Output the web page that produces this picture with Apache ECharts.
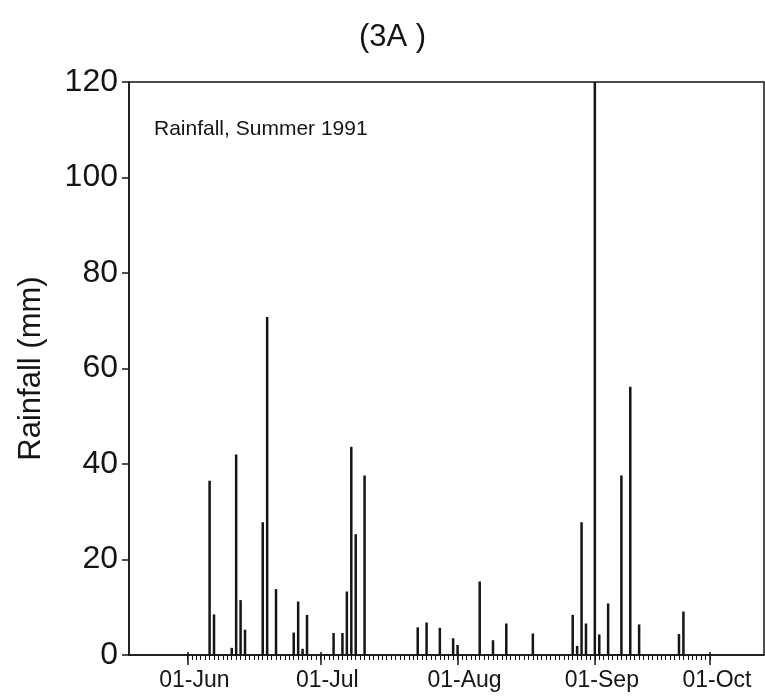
<!DOCTYPE html>
<html>
<head>
<meta charset="utf-8">
<script src="https://cdn.jsdelivr.net/npm/echarts@6/dist/echarts.min.js"></script>
<style>
  html, body { margin: 0; padding: 0; background: #fff; }
  #rainChart { width: 765px; height: 696px; }
</style>
</head>
<body>
<div id="rainChart"></div>
<script>
  // days counted from 01-Jun on the plotted day scale
  var rainDays = [5, 6, 10, 11, 12, 13, 17, 18, 20, 24, 25, 26, 27,
    33, 35, 36, 37, 38, 40, 52, 54, 57, 60, 61,
    66, 69, 72, 78, 87, 88, 89, 90,
    92, 93, 95, 98, 100, 102, 111, 112];
  // rainfall (mm)
  var rainVals = [36.5, 8.5, 1.5, 42, 11.5, 5.3, 27.8, 70.8, 13.8, 4.7, 11.2, 1.3, 8.4,
    4.6, 4.6, 13.3, 43.6, 25.3, 37.6, 5.8, 6.8, 5.7, 3.5, 2.1,
    15.4, 3.1, 6.6, 4.5, 8.4, 1.9, 27.8, 6.6,
    120, 4.3, 10.8, 37.6, 56.2, 6.4, 4.4, 9.1];

  var monthDays = [0, 30, 61, 92, 118];
  var monthLabels = ['01-Jun', '01-Jul', '01-Aug', '01-Sep', '01-Oct'];

  var dayTicks = [];
  for (var d = 0; d <= 118; d++) dayTicks.push(d);

  var xMin = -13.2, xMax = 130.2;
  var ink = '#151515';
  var font = 'Liberation Sans, Arial, sans-serif';

  var chart = echarts.init(document.getElementById('rainChart'));
  chart.setOption({
    animation: false,
    title: [
      {
        text: '(3A )',
        left: 354,
        top: 17,
        textStyle: { fontSize: 31, fontWeight: 'normal', color: ink, fontFamily: font }
      },
      {
        text: 'Rainfall, Summer 1991',
        left: 149,
        top: 114,
        textStyle: { fontSize: 21, fontWeight: 'normal', color: ink, fontFamily: font }
      }
    ],
    grid: {
      left: 129,
      right: 1,
      top: 82,
      bottom: 41,
      show: true,
      borderColor: ink,
      borderWidth: 1.5
    },
    xAxis: [
      {
        type: 'value',
        position: 'bottom',
        min: xMin,
        max: xMax,
        axisLine: { show: true, onZero: false, lineStyle: { color: ink, width: 1.5 } },
        axisTick: { show: true, customValues: monthDays, length: 10, lineStyle: { color: ink, width: 1.5 } },
        axisLabel: {
          customValues: monthDays,
          margin: 14,
          fontSize: 23,
          color: ink,
          fontFamily: font,
          padding: [0, 0, 0, 14],
          formatter: function (v) {
            return monthLabels[monthDays.indexOf(v)];
          }
        },
        splitLine: { show: false }
      },
      {
        type: 'value',
        position: 'bottom',
        min: xMin,
        max: xMax,
        axisLine: { show: false, onZero: false },
        axisTick: { show: true, customValues: dayTicks, length: 5, lineStyle: { color: ink, width: 1 } },
        axisLabel: { show: false },
        splitLine: { show: false }
      },
      {
        type: 'value',
        position: 'bottom',
        min: xMin,
        max: xMax,
        axisLine: { show: false, onZero: false },
        axisTick: { show: true, inside: true, customValues: monthDays, length: 3, lineStyle: { color: ink, width: 1.5 } },
        axisLabel: { show: false },
        splitLine: { show: false }
      }
    ],
    yAxis: {
      type: 'value',
      position: 'left',
      min: 0,
      max: 120,
      interval: 20,
      name: 'Rainfall (mm)',
      nameLocation: 'middle',
      nameGap: 82,
      nameTextStyle: { fontSize: 31, color: ink, fontFamily: font },
      axisLine: { show: true, onZero: false, lineStyle: { color: ink, width: 1.5 } },
      axisTick: { show: true, length: 7, lineStyle: { color: ink, width: 1.5 } },
      axisLabel: { margin: 11, fontSize: 32, color: ink, fontFamily: font },
      splitLine: { show: false }
    },
    series: [
      {
        name: 'Rainfall',
        type: 'bar',
        xAxisIndex: 0,
        barWidth: 2.5,
        itemStyle: { color: ink },
        data: rainDays.map(function (day, i) {
          return [day, rainVals[i]];
        })
      }
    ]
  });
</script>
</body>
</html>
